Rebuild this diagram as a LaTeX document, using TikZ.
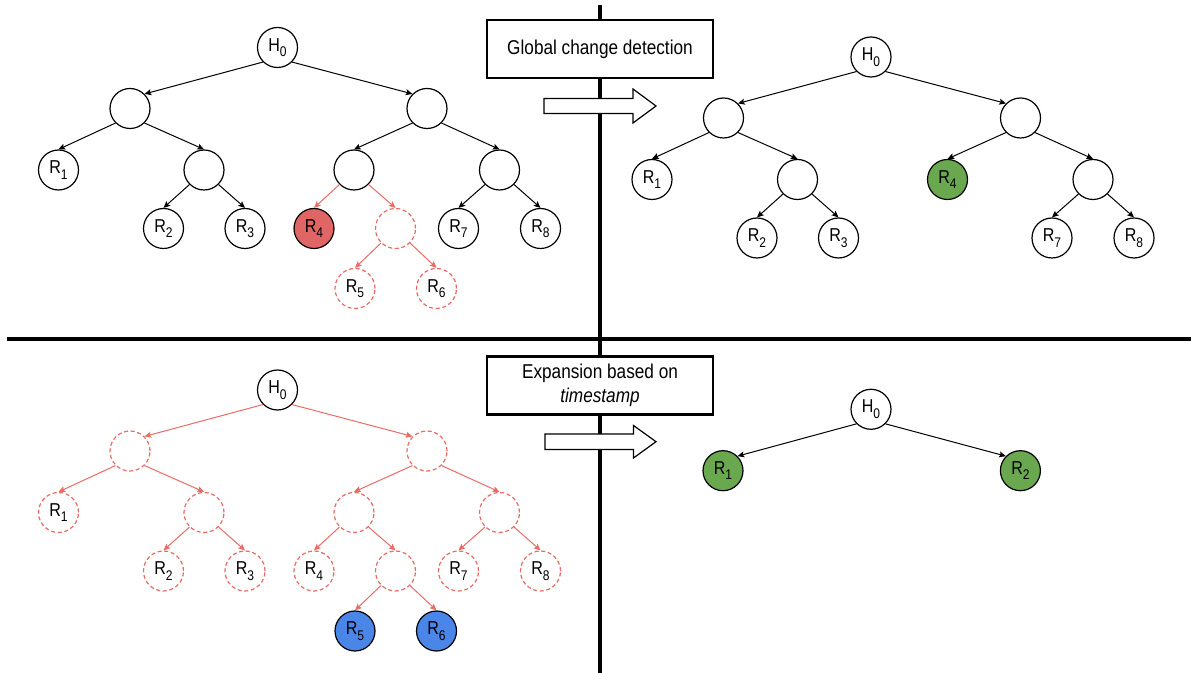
\documentclass[tikz,border=0pt]{standalone}
\usepackage{fontspec}
\setmainfont[FakeStretch=0.86]{Liberation Sans}
\usetikzlibrary{arrows.meta}
\definecolor{redfill}{HTML}{E06666}
\definecolor{redline}{HTML}{EA6B66}
\definecolor{greenfill}{HTML}{6AA84F}
\definecolor{bluefill}{HTML}{4A86E8}
\newcommand\sbs[1]{\raisebox{-4pt}{\fontsize{10.5}{10.5}\selectfont #1}}
\tikzset{
  tn/.style={circle, draw=black, line width=0.9pt, minimum size=30pt, inner sep=0pt, fill=white, font=\fontsize{14}{14}\selectfont},
  dn/.style={tn, draw=redline, dash pattern=on 3pt off 2pt},
  edg/.style={-{Stealth[length=5pt,width=4.5pt,inset=1pt]}, line width=0.75pt, draw=black},
  redg/.style={edg, draw=redline},
  titlebox/.style={draw=black, line width=1.8pt, fill=white, minimum width=169.5pt, minimum height=43.5pt, inner sep=0pt, align=center, font=\fontsize{15}{18}\selectfont},
  divider/.style={line width=3.4pt, draw=black},
  blockarrow/.style={draw=black, line width=0.9pt, fill=white}
}
\begin{document}
\begin{tikzpicture}[x=0.75pt,y=-0.75pt]
\useasboundingbox (0,0) rectangle (1197,673);
% dividers
\coordinate (vt) at (600,5);
\coordinate (vb) at (600,673);
\coordinate (hl) at (7,339);
\coordinate (hr) at (1191,339);
\draw[divider] (vt) -- (vb);
\draw[divider] (hl) -- (hr);
% boxes
\node[titlebox] (box1) at (600,49) {Global change detection};
\node[titlebox] (box2) at (600,385.5) {Expansion based on\\\textit{timestamp}};
% block arrows
\draw[blockarrow] (544,98.5) -- (633,98.5) -- (633,89) -- (656,106) -- (633,123) -- (633,113.5) -- (544,113.5) -- cycle;
\draw[blockarrow] (545,434) -- (633.5,434) -- (633.5,425.5) -- (656,441.7) -- (633.5,458) -- (633.5,449.5) -- (545,449.5) -- cycle;

% ===== top-left tree =====
\node[tn] (a0) at (277.5,47.5) {H\sbs{0}};
\node[tn] (a1) at (130,108.5) {};
\node[tn] (a2) at (427,108.5) {};
\node[tn] (aR1) at (58.5,170) {R\sbs{1}};
\node[tn] (a3) at (204,170) {};
\node[tn] (a4) at (354,170) {};
\node[tn] (a5) at (499.5,170) {};
\node[tn] (aR2) at (163.5,228.5) {R\sbs{2}};
\node[tn] (aR3) at (245,228.5) {R\sbs{3}};
\node[tn,fill=redfill] (aR4) at (314,228.5) {R\sbs{4}};
\node[dn] (a6) at (395.5,228.5) {};
\node[tn] (aR7) at (458.5,228.5) {R\sbs{7}};
\node[tn] (aR8) at (540.5,228.5) {R\sbs{8}};
\node[dn] (aR5) at (355,288.5) {R\sbs{5}};
\node[dn] (aR6) at (436.5,288.5) {R\sbs{6}};
\draw[edg] (a0.south west) -- (a1.north east);
\draw[edg] (a0.south east) -- (a2.north west);
\draw[edg] (a1.south west) -- (aR1.north);
\draw[edg] (a1.south east) -- (a3.north);
\draw[edg] (a2.south west) -- (a4.north);
\draw[edg] (a2.south east) -- (a5.north);
\draw[edg] (a3.south west) -- (aR2.north);
\draw[edg] (a3.south east) -- (aR3.north);
\draw[redg] (a4.south west) -- (aR4.north);
\draw[redg] (a4.south east) -- (a6.north);
\draw[edg] (a5.south west) -- (aR7.north);
\draw[edg] (a5.south east) -- (aR8.north);
\draw[redg] (a6.south west) -- (aR5.north);
\draw[redg] (a6.south east) -- (aR6.north);

% ===== top-right tree =====
\node[tn] (b0) at (871,57) {H\sbs{0}};
\node[tn] (b1) at (723.5,118) {};
\node[tn] (b2) at (1020.5,118) {};
\node[tn] (bR1) at (652,179.5) {R\sbs{1}};
\node[tn] (b3) at (797.5,179.5) {};
\node[tn,fill=greenfill] (bR4) at (947.5,179.5) {R\sbs{4}};
\node[tn] (b5) at (1093,179.5) {};
\node[tn] (bR2) at (757,238) {R\sbs{2}};
\node[tn] (bR3) at (838.5,238) {R\sbs{3}};
\node[tn] (bR7) at (1052,238) {R\sbs{7}};
\node[tn] (bR8) at (1134,238) {R\sbs{8}};
\draw[edg] (b0.south west) -- (b1.north east);
\draw[edg] (b0.south east) -- (b2.north west);
\draw[edg] (b1.south west) -- (bR1.north);
\draw[edg] (b1.south east) -- (b3.north);
\draw[edg] (b2.south west) -- (bR4.north);
\draw[edg] (b2.south east) -- (b5.north);
\draw[edg] (b3.south west) -- (bR2.north);
\draw[edg] (b3.south east) -- (bR3.north);
\draw[edg] (b5.south west) -- (bR7.north);
\draw[edg] (b5.south east) -- (bR8.north);

% ===== bottom-left tree =====
\node[tn] (c0) at (277.5,390) {H\sbs{0}};
\node[dn] (c1) at (130,451) {};
\node[dn] (c2) at (427,451) {};
\node[dn] (cR1) at (58.5,512.5) {R\sbs{1}};
\node[dn] (c3) at (204,512.5) {};
\node[dn] (c4) at (354,512.5) {};
\node[dn] (c5) at (499.5,512.5) {};
\node[dn] (cR2) at (163.5,571) {R\sbs{2}};
\node[dn] (cR3) at (245,571) {R\sbs{3}};
\node[dn] (cR4) at (314,571) {R\sbs{4}};
\node[dn] (c6) at (395.5,571) {};
\node[dn] (cR7) at (458.5,571) {R\sbs{7}};
\node[dn] (cR8) at (540.5,571) {R\sbs{8}};
\node[tn,fill=bluefill] (cR5) at (355,631) {R\sbs{5}};
\node[tn,fill=bluefill] (cR6) at (436.5,631) {R\sbs{6}};
\draw[redg] (c0.south west) -- (c1.north east);
\draw[redg] (c0.south east) -- (c2.north west);
\draw[redg] (c1.south west) -- (cR1.north);
\draw[redg] (c1.south east) -- (c3.north);
\draw[redg] (c2.south west) -- (c4.north);
\draw[redg] (c2.south east) -- (c5.north);
\draw[redg] (c3.south west) -- (cR2.north);
\draw[redg] (c3.south east) -- (cR3.north);
\draw[redg] (c4.south west) -- (cR4.north);
\draw[redg] (c4.south east) -- (c6.north);
\draw[redg] (c5.south west) -- (cR7.north);
\draw[redg] (c5.south east) -- (cR8.north);
\draw[redg] (c6.south west) -- (cR5.north);
\draw[redg] (c6.south east) -- (cR6.north);

% ===== bottom-right tree =====
\node[tn] (d0) at (871,409.3) {H\sbs{0}};
\node[tn,fill=greenfill] (dR1) at (723,470.7) {R\sbs{1}};
\node[tn,fill=greenfill] (dR2) at (1020.4,470.7) {R\sbs{2}};
\draw[edg] (d0.south west) -- (dR1.north east);
\draw[edg] (d0.south east) -- (dR2.north west);
\end{tikzpicture}
\end{document}
